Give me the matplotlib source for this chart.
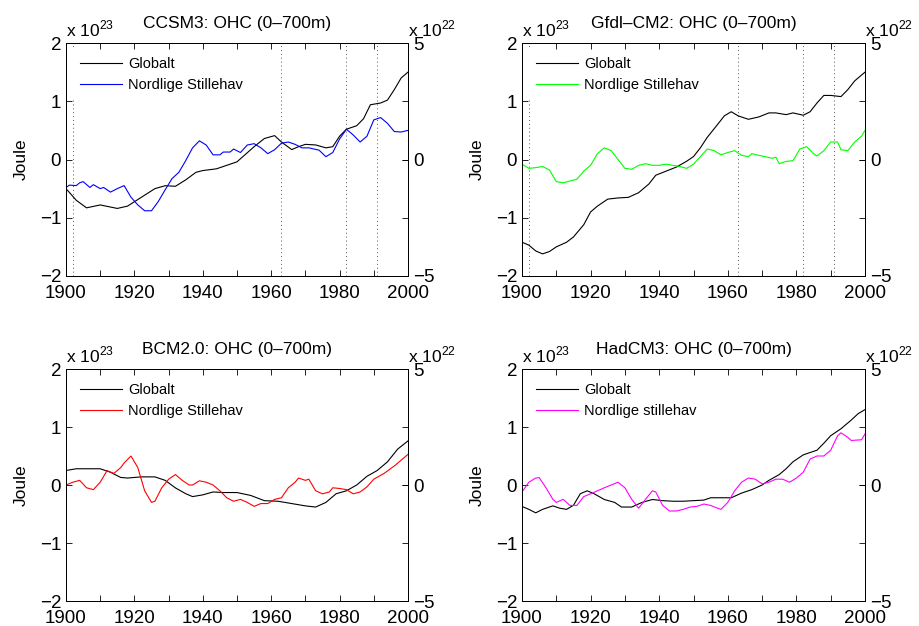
import matplotlib
matplotlib.use("Agg")
import matplotlib.pyplot as plt
from matplotlib.ticker import MultipleLocator

plt.rcParams['font.family'] = ['Liberation Sans', 'DejaVu Sans']
plt.rcParams['mathtext.fontset'] = 'custom'
plt.rcParams['mathtext.rm'] = 'Liberation Sans'
plt.rcParams['axes.unicode_minus'] = True

# Globalt: units of 1e23 J (left axis); Nordlige Stillehav: units of 1e22 J (right axis)
ccsm_glob_yr = [1900, 1903, 1906, 1910, 1915, 1918, 1922, 1926, 1929, 1932, 1935, 1938, 1940, 1944, 1948,
                1950, 1955, 1958, 1961, 1963, 1966, 1968, 1970, 1973, 1976, 1978, 1980, 1982, 1985, 1987,
                1989, 1992, 1994, 1996, 1998, 2000]
ccsm_glob = [-0.5, -0.7, -0.83, -0.78, -0.84, -0.8, -0.65, -0.5, -0.45, -0.46, -0.35, -0.22, -0.19, -0.16, -0.08,
             -0.04, 0.22, 0.36, 0.41, 0.3, 0.17, 0.22, 0.26, 0.25, 0.2, 0.22, 0.4, 0.52, 0.58, 0.7,
             0.94, 0.97, 1.02, 1.2, 1.4, 1.5]
ccsm_np_yr = [1900, 1901, 1903, 1904, 1905, 1907, 1908, 1910, 1911, 1913, 1915, 1917, 1919, 1921, 1923, 1925,
              1927, 1929, 1931, 1933, 1935, 1937, 1939, 1941, 1943, 1945, 1946, 1948, 1949, 1951, 1953, 1955,
              1957, 1959, 1961, 1963, 1965, 1967, 1969, 1971, 1974, 1976, 1978, 1980, 1982, 1984, 1986, 1988,
              1990, 1992, 1994, 1996, 1998, 2000]
ccsm_np = [-1.2, -1.1, -1.12, -1.0, -0.95, -1.2, -1.08, -1.25, -1.2, -1.4, -1.25, -1.12, -1.62, -1.95, -2.2, -2.2,
           -1.8, -1.3, -0.82, -0.55, -0.05, 0.5, 0.8, 0.62, 0.2, 0.2, 0.32, 0.32, 0.45, 0.3, 0.62, 0.68,
           0.5, 0.25, 0.42, 0.7, 0.75, 0.65, 0.5, 0.5, 0.4, 0.12, 0.3, 0.88, 1.3, 1.05, 0.75, 1.0,
           1.7, 1.8, 1.55, 1.2, 1.18, 1.25]

gfdl_glob_yr = [1900, 1902, 1904, 1906, 1908, 1910, 1913, 1915, 1918, 1920, 1922, 1925, 1928, 1931, 1934, 1937,
                1939, 1942, 1945, 1948, 1950, 1952, 1954, 1957, 1959, 1961, 1963, 1966, 1969, 1972, 1974, 1977,
                1979, 1982, 1984, 1986, 1988, 1990, 1993, 1995, 1997, 2000]
gfdl_glob = [-1.42, -1.47, -1.57, -1.62, -1.58, -1.5, -1.42, -1.33, -1.12, -0.9, -0.8, -0.68, -0.66, -0.65, -0.57, -0.42,
             -0.27, -0.2, -0.13, -0.03, 0.05, 0.2, 0.38, 0.6, 0.75, 0.82, 0.75, 0.69, 0.73, 0.8, 0.8, 0.77,
             0.8, 0.76, 0.82, 0.97, 1.1, 1.1, 1.08, 1.2, 1.35, 1.5]
gfdl_np_yr = [1900, 1902, 1904, 1906, 1908, 1910, 1912, 1914, 1916, 1918, 1920, 1922, 1924, 1926, 1928, 1930,
              1932, 1934, 1936, 1938, 1940, 1942, 1944, 1946, 1948, 1950, 1952, 1954, 1956, 1958, 1960, 1962,
              1964, 1966, 1967, 1969, 1971, 1973, 1974, 1975, 1977, 1979, 1981, 1983, 1985, 1986, 1988, 1990,
              1992, 1993, 1995, 1997, 1999, 2000]
gfdl_np = [-0.2, -0.38, -0.35, -0.3, -0.45, -0.95, -1.0, -0.92, -0.85, -0.5, -0.25, 0.25, 0.5, 0.38, 0.0, -0.38,
           -0.42, -0.25, -0.18, -0.25, -0.25, -0.2, -0.25, -0.3, -0.38, -0.2, 0.12, 0.45, 0.38, 0.2, 0.3, 0.38,
           0.18, 0.12, 0.25, 0.18, 0.12, 0.05, 0.1, -0.18, -0.08, -0.05, 0.45, 0.55, 0.25, 0.15, 0.38, 0.75,
           0.75, 0.42, 0.38, 0.75, 1.0, 1.25]

bcm_glob_yr = [1900, 1903, 1906, 1910, 1913, 1916, 1918, 1922, 1926, 1929, 1932, 1935, 1937, 1940, 1943, 1946,
               1950, 1954, 1958, 1962, 1966, 1970, 1973, 1976, 1979, 1982, 1985, 1988, 1991, 1994, 1997, 2000]
bcm_glob = [0.25, 0.28, 0.28, 0.28, 0.22, 0.13, 0.12, 0.14, 0.14, 0.08, -0.05, -0.15, -0.2, -0.17, -0.12, -0.13,
            -0.13, -0.18, -0.27, -0.28, -0.32, -0.36, -0.38, -0.3, -0.15, -0.1, 0.0, 0.15, 0.25, 0.4, 0.62, 0.76]
bcm_np_yr = [1900, 1902, 1904, 1906, 1908, 1910, 1912, 1914, 1916, 1917, 1919, 1921, 1923, 1925, 1926, 1928,
             1930, 1932, 1934, 1936, 1937, 1939, 1941, 1943, 1945, 1947, 1949, 1951, 1953, 1955, 1957, 1959,
             1961, 1963, 1965, 1967, 1968, 1970, 1971, 1973, 1975, 1977, 1978, 1980, 1982, 1984, 1986, 1988,
             1990, 1993, 1996, 2000]
bcm_np = [0.0, 0.12, 0.2, -0.12, -0.2, 0.12, 0.62, 0.5, 0.75, 0.95, 1.25, 0.75, -0.25, -0.75, -0.7, -0.12,
          0.25, 0.45, 0.2, 0.0, 0.0, 0.18, 0.12, 0.0, -0.25, -0.55, -0.7, -0.62, -0.75, -0.92, -0.8, -0.8,
          -0.62, -0.55, -0.12, 0.12, 0.3, 0.2, 0.25, -0.25, -0.38, -0.3, -0.12, -0.15, -0.2, -0.38, -0.3, -0.08,
          0.25, 0.5, 0.82, 1.32]

had_glob_yr = [1900, 1902, 1904, 1906, 1909, 1911, 1913, 1915, 1917, 1919, 1921, 1924, 1927, 1929, 1932, 1935,
               1938, 1941, 1944, 1947, 1950, 1953, 1955, 1958, 1961, 1964, 1967, 1970, 1972, 1975, 1977, 1979,
               1982, 1984, 1986, 1988, 1990, 1993, 1996, 1998, 2000]
had_glob = [-0.37, -0.42, -0.48, -0.42, -0.36, -0.4, -0.42, -0.35, -0.15, -0.1, -0.15, -0.25, -0.3, -0.38, -0.38, -0.3,
            -0.25, -0.27, -0.28, -0.28, -0.27, -0.26, -0.22, -0.22, -0.22, -0.14, -0.08, 0.0, 0.08, 0.18, 0.28, 0.4,
            0.52, 0.56, 0.6, 0.72, 0.85, 0.97, 1.12, 1.23, 1.3]
had_np_yr = [1900, 1902, 1904, 1905, 1907, 1909, 1910, 1912, 1914, 1916, 1918, 1920, 1922, 1924, 1926, 1928,
             1930, 1932, 1934, 1936, 1938, 1939, 1941, 1943, 1945, 1947, 1949, 1951, 1953, 1955, 1957, 1958,
             1960, 1962, 1964, 1966, 1968, 1970, 1972, 1974, 1976, 1978, 1980, 1982, 1984, 1986, 1988, 1990,
             1992, 1993, 1995, 1996, 1999, 2000]
had_np = [-0.3, 0.12, 0.3, 0.32, -0.12, -0.62, -0.75, -0.62, -0.88, -0.88, -0.5, -0.38, -0.25, -0.12, 0.0, 0.12,
          -0.12, -0.62, -1.0, -0.62, -0.25, -0.3, -0.88, -1.12, -1.12, -1.05, -0.95, -0.92, -0.82, -0.88, -1.0, -1.05,
          -0.75, -0.25, 0.12, 0.3, 0.25, 0.05, 0.12, 0.25, 0.25, 0.12, 0.3, 0.55, 1.12, 1.25, 1.25, 1.5,
          2.12, 2.25, 2.05, 1.92, 1.95, 2.2]

volcano_years = [1902, 1963, 1982, 1991]

panels = [
    ("CCSM3: OHC (0\u2013700m)", ccsm_glob_yr, ccsm_glob, ccsm_np_yr, ccsm_np, "#0000ff", "Nordlige Stillehav", True),
    ("Gfdl\u2013CM2: OHC (0\u2013700m)", gfdl_glob_yr, gfdl_glob, gfdl_np_yr, gfdl_np, "#00ff00", "Nordlige Stillehav", True),
    ("BCM2.0: OHC (0\u2013700m)", bcm_glob_yr, bcm_glob, bcm_np_yr, bcm_np, "#ff0000", "Nordlige Stillehav", False),
    ("HadCM3: OHC (0\u2013700m)", had_glob_yr, had_glob, had_np_yr, had_np, "#ff00ff", "Nordlige stillehav", False),
]

rects = [
    [66 / 919, 1 - 276 / 626, 342 / 919, 233 / 626],
    [522 / 919, 1 - 276 / 626, 343 / 919, 233 / 626],
    [66 / 919, 1 - 601 / 626, 342 / 919, 232 / 626],
    [522 / 919, 1 - 601 / 626, 343 / 919, 232 / 626],
]

fig = plt.figure(figsize=(9.19, 6.26), dpi=100)

for rect, (title, gy, gv, ny, nv, col, nlabel, volc) in zip(rects, panels):
    ax = fig.add_axes(rect)
    ax2 = ax.twinx()

    # vulkanutbrudd som prikkete linjer
    if volc:
        for v in volcano_years:
            ax.axvline(v, color="#555555", linestyle=(0, (1, 3)), linewidth=0.7)

    l1, = ax.plot(gy, gv, color="black", linewidth=0.8, label="Globalt")
    l2, = ax2.plot(ny, nv, color=col, linewidth=0.8, label=nlabel)

    ax.set_xlim(1900, 2000)
    ax.set_ylim(-2, 2)
    ax2.set_ylim(-5, 5)
    ax.xaxis.set_major_locator(MultipleLocator(20))
    ax.xaxis.set_minor_locator(MultipleLocator(10))
    ax.set_yticks([-2, -1, 0, 1, 2])
    ax2.set_yticks([-5, 0, 5])
    ax.tick_params(which="both", direction="in", top=True, right=True, labelsize=13.5, length=4, width=0.6)
    ax.tick_params(axis="x", pad=6.5)
    ax2.tick_params(direction="in", labelsize=13.5, length=4, width=0.6)
    for a in (ax, ax2):
        for s in a.spines.values():
            s.set_linewidth(0.7)

    ax.set_ylabel("Joule", fontsize=12.5, labelpad=8)
    ax.set_title(title, fontsize=12.5, pad=11)
    ax.text(0.0, 1.03, r"x 10$^{23}$", transform=ax.transAxes, fontsize=12.5, va="baseline", ha="left")
    ax.text(1.0, 1.03, r"x 10$^{22}$", transform=ax.transAxes, fontsize=12.5, va="baseline", ha="left")

    leg = ax2.legend([l1, l2], ["Globalt", nlabel], loc="upper left", fontsize=10.5, frameon=True,
                     fancybox=False, handlelength=2.9, handletextpad=0.4, labelspacing=0.5,
                     borderpad=0.45, bbox_to_anchor=(0.0, 1.0))
    leg.get_frame().set_facecolor("white")
    leg.get_frame().set_edgecolor("none")
    leg.get_frame().set_alpha(1.0)

fig.savefig("out.png", dpi=100)
